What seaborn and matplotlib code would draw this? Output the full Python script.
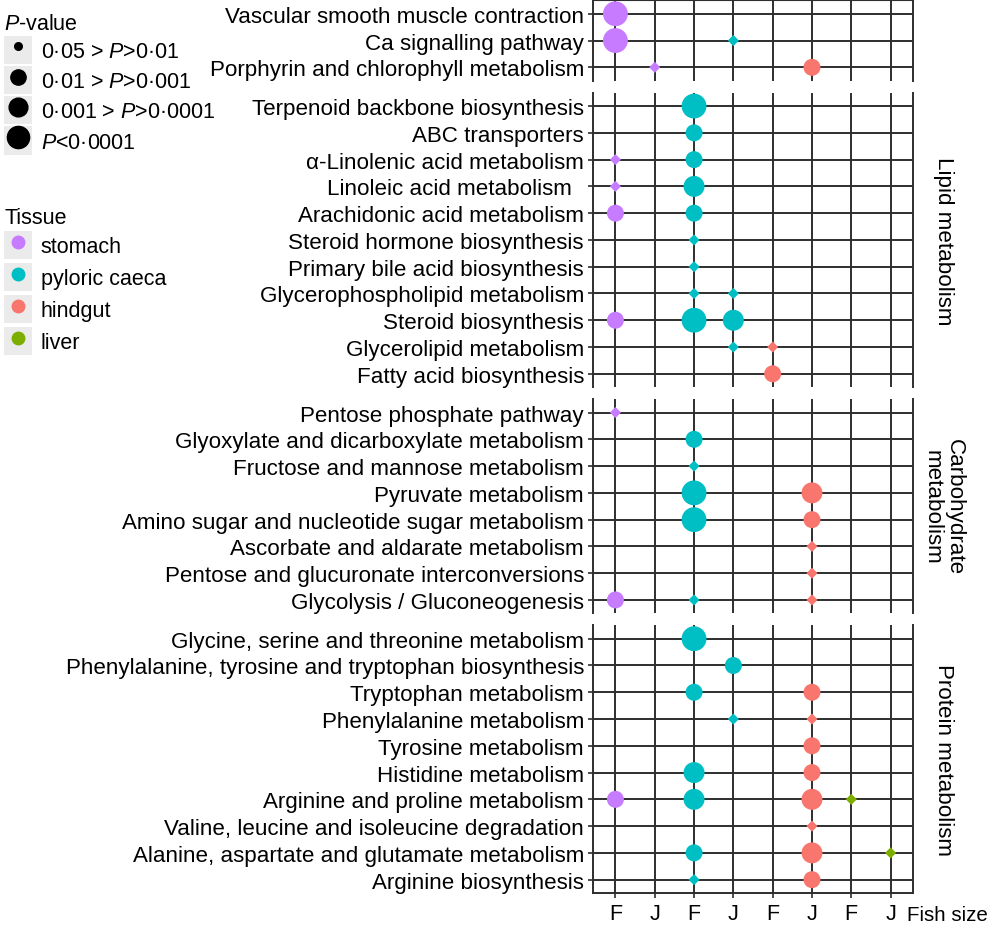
import matplotlib
matplotlib.use("Agg")
import matplotlib.pyplot as plt
from matplotlib.lines import Line2D
from matplotlib.patches import Rectangle
import pandas as pd
import seaborn as sns

# facet rows (top to bottom) and the pathways inside each
PANEL_LABELS = ["", "Lipid metabolism", "Carbohydrate\nmetabolism", "Protein metabolism"]
PANEL_PATHWAYS = [
    ["Vascular smooth muscle contraction", "Ca signalling pathway",
     "Porphyrin and chlorophyll metabolism"],
    ["Terpenoid backbone biosynthesis", "ABC transporters", "α-Linolenic acid metabolism",
     "Linoleic acid metabolism  ", "Arachidonic acid metabolism", "Steroid hormone biosynthesis",
     "Primary bile acid biosynthesis", "Glycerophospholipid metabolism", "Steroid biosynthesis",
     "Glycerolipid metabolism", "Fatty acid biosynthesis"],
    ["Pentose phosphate pathway", "Glyoxylate and dicarboxylate metabolism",
     "Fructose and mannose metabolism", "Pyruvate metabolism",
     "Amino sugar and nucleotide sugar metabolism", "Ascorbate and aldarate metabolism",
     "Pentose and glucuronate interconversions", "Glycolysis / Gluconeogenesis"],
    ["Glycine, serine and threonine metabolism",
     "Phenylalanine, tyrosine and tryptophan biosynthesis", "Tryptophan metabolism",
     "Phenylalanine metabolism", "Tyrosine metabolism", "Histidine metabolism",
     "Arginine and proline metabolism", "Valine, leucine and isoleucine degradation",
     "Alanine, aspartate and glutamate metabolism", "Arginine biosynthesis"],
]

TISSUES = ["stomach", "pyloric caeca", "hindgut", "liver"]
TISSUE_COLORS = ["#C77CFF", "#00BFC4", "#F8766D", "#7CAE00"]
FISH_SIZES = ["F", "J"]
P_LABELS = ["0·05 > $P$>0·01", "0·01 > $P$>0·001", "0·001 > $P$>0·0001", "$P$<0·0001"]

# one entry per significant pathway / tissue / fish size
pathway = [
    "Vascular smooth muscle contraction",
    "Ca signalling pathway", "Ca signalling pathway",
    "Porphyrin and chlorophyll metabolism", "Porphyrin and chlorophyll metabolism",
    "Terpenoid backbone biosynthesis",
    "ABC transporters",
    "α-Linolenic acid metabolism", "α-Linolenic acid metabolism",
    "Linoleic acid metabolism  ", "Linoleic acid metabolism  ",
    "Arachidonic acid metabolism", "Arachidonic acid metabolism",
    "Steroid hormone biosynthesis",
    "Primary bile acid biosynthesis",
    "Glycerophospholipid metabolism", "Glycerophospholipid metabolism",
    "Steroid biosynthesis", "Steroid biosynthesis", "Steroid biosynthesis",
    "Glycerolipid metabolism", "Glycerolipid metabolism",
    "Fatty acid biosynthesis",
    "Pentose phosphate pathway",
    "Glyoxylate and dicarboxylate metabolism",
    "Fructose and mannose metabolism",
    "Pyruvate metabolism", "Pyruvate metabolism",
    "Amino sugar and nucleotide sugar metabolism", "Amino sugar and nucleotide sugar metabolism",
    "Ascorbate and aldarate metabolism",
    "Pentose and glucuronate interconversions",
    "Glycolysis / Gluconeogenesis", "Glycolysis / Gluconeogenesis", "Glycolysis / Gluconeogenesis",
    "Glycine, serine and threonine metabolism",
    "Phenylalanine, tyrosine and tryptophan biosynthesis",
    "Tryptophan metabolism", "Tryptophan metabolism",
    "Phenylalanine metabolism", "Phenylalanine metabolism",
    "Tyrosine metabolism",
    "Histidine metabolism", "Histidine metabolism",
    "Arginine and proline metabolism", "Arginine and proline metabolism",
    "Arginine and proline metabolism", "Arginine and proline metabolism",
    "Valine, leucine and isoleucine degradation",
    "Alanine, aspartate and glutamate metabolism", "Alanine, aspartate and glutamate metabolism",
    "Alanine, aspartate and glutamate metabolism",
    "Arginine biosynthesis", "Arginine biosynthesis",
]
tissue = [
    "stomach",
    "stomach", "pyloric caeca",
    "stomach", "hindgut",
    "pyloric caeca",
    "pyloric caeca",
    "stomach", "pyloric caeca",
    "stomach", "pyloric caeca",
    "stomach", "pyloric caeca",
    "pyloric caeca",
    "pyloric caeca",
    "pyloric caeca", "pyloric caeca",
    "stomach", "pyloric caeca", "pyloric caeca",
    "pyloric caeca", "hindgut",
    "hindgut",
    "stomach",
    "pyloric caeca",
    "pyloric caeca",
    "pyloric caeca", "hindgut",
    "pyloric caeca", "hindgut",
    "hindgut",
    "hindgut",
    "stomach", "pyloric caeca", "hindgut",
    "pyloric caeca",
    "pyloric caeca",
    "pyloric caeca", "hindgut",
    "pyloric caeca", "hindgut",
    "hindgut",
    "pyloric caeca", "hindgut",
    "stomach", "pyloric caeca", "hindgut", "liver",
    "hindgut",
    "pyloric caeca", "hindgut", "liver",
    "pyloric caeca", "hindgut",
]
fish_size = [
    "F",
    "F", "J",
    "J", "J",
    "F",
    "F",
    "F", "F",
    "F", "F",
    "F", "F",
    "F",
    "F",
    "F", "J",
    "F", "F", "J",
    "J", "F",
    "F",
    "F",
    "F",
    "F",
    "F", "J",
    "F", "J",
    "J",
    "J",
    "F", "F", "J",
    "F",
    "J",
    "F", "J",
    "J", "J",
    "J",
    "F", "J",
    "F", "F", "J", "F",
    "J",
    "F", "J", "J",
    "F", "J",
]
# 1: 0.05>P>0.01, 2: 0.01>P>0.001, 3: 0.001>P>0.0001, 4: P<0.0001
p_class = [
    4,
    4, 1,
    1, 2,
    4,
    2,
    1, 2,
    1, 3,
    2, 2,
    1,
    1,
    1, 1,
    2, 4, 3,
    1, 1,
    2,
    1,
    2,
    1,
    4, 3,
    4, 2,
    1,
    1,
    2, 1, 1,
    4,
    2,
    2, 2,
    1, 1,
    2,
    3, 2,
    2, 3, 3, 1,
    1,
    2, 3, 1,
    1, 2,
]

SIZE_AREAS = {1: 32, 2: 150, 3: 228, 4: 320}
SIZE_MARKERS = {1: "D", 2: "o", 3: "o", 4: "o"}
LEGEND_MS = [5.5, 11, 13.5, 16]
LINE_COLOR = "#2e2e2e"
FS = 16.1

sns.set_style("white")
plt.rcParams["font.family"] = ["Liberation Sans", "DejaVu Sans"]
plt.rcParams["text.color"] = "black"
plt.rcParams["mathtext.fontset"] = "custom"
plt.rcParams["mathtext.rm"] = "Liberation Sans"
plt.rcParams["mathtext.it"] = "Liberation Sans:italic"

df = pd.DataFrame({"pathway": pathway, "tissue": tissue, "fish_size": fish_size, "p_class": p_class})
df["x"] = [TISSUES.index(t) * 2 + FISH_SIZES.index(s) + 1 for t, s in zip(df["tissue"], df["fish_size"])]
palette = dict(zip(TISSUES, TISSUE_COLORS))

fig = plt.figure(figsize=(9.95, 9.28), dpi=100)
gs = fig.add_gridspec(len(PANEL_PATHWAYS), 1, height_ratios=[len(p) for p in PANEL_PATHWAYS],
                      left=0.596, right=0.9176, top=0.9985, bottom=0.0366, hspace=0.056)

x_ticks = list(range(1, len(TISSUES) * len(FISH_SIZES) + 1))
for i, (rows, label) in enumerate(zip(PANEL_PATHWAYS, PANEL_LABELS)):
    ax = fig.add_subplot(gs[i])
    sub = df[df["pathway"].isin(rows)].copy()
    sub["y"] = [rows.index(p) for p in sub["pathway"]]
    sns.scatterplot(data=sub, x="x", y="y", hue="tissue", hue_order=TISSUES, palette=palette,
                    size="p_class", sizes=SIZE_AREAS, style="p_class", markers=SIZE_MARKERS,
                    linewidth=0, legend=False, ax=ax, zorder=3)
    ax.set_xlim(0.43, 8.57)
    ax.set_ylim(len(rows) - 0.5, -0.5)
    ax.set_xticks(x_ticks)
    ax.set_yticks(range(len(rows)))
    ax.set_yticklabels(rows, fontsize=FS, color="black")
    ax.set_axisbelow(True)
    ax.grid(True, color=LINE_COLOR, linewidth=1.4)
    ax.set_xlabel("")
    ax.set_ylabel("")
    for side in ["left", "right"]:
        ax.spines[side].set_visible(True)
        ax.spines[side].set_color(LINE_COLOR)
        ax.spines[side].set_linewidth(1.4)
    ax.spines["top"].set_visible(i == 0)
    ax.spines["top"].set_color(LINE_COLOR)
    ax.spines["bottom"].set_visible(i == len(PANEL_PATHWAYS) - 1)
    ax.spines["bottom"].set_color(LINE_COLOR)
    ax.spines["bottom"].set_linewidth(1.4)
    ax.tick_params(axis="y", left=True, length=3.5, width=1.2, color=LINE_COLOR, pad=3)
    if i == len(PANEL_PATHWAYS) - 1:
        ax.set_xticklabels(FISH_SIZES * len(TISSUES), fontsize=15.5, color="black")
        ax.tick_params(axis="x", bottom=True, length=3.5, width=1.2, color=LINE_COLOR, pad=4)
        ax.annotate("Fish size", xy=(1, 0), xycoords="axes fraction", xytext=(-6, -21),
                    textcoords="offset pixels", ha="left", va="center", fontsize=14.8)
    else:
        ax.set_xticklabels([])
        ax.tick_params(axis="x", bottom=False, length=0)
    if label:
        ax.annotate(label, xy=(1, 0.5), xycoords="axes fraction", xytext=(30, 0),
                    textcoords="offset pixels", rotation=-90, ha="center", va="center",
                    multialignment="center", fontsize=FS, linespacing=1.05)

# legends with grey key backgrounds, ggplot style
key_bg = "#EBEBEB"
legend_kw = dict(loc="upper left", alignment="left", frameon=False, fontsize=15.5,
                 title_fontsize=15.5, handlelength=1.3, handleheight=1.63,
                 handletextpad=0.4, borderaxespad=0, borderpad=0.2, labelcolor="black")

p_handles = [(Rectangle((0, 0), 1, 1, facecolor=key_bg, edgecolor="none"),
              Line2D([], [], marker="o", color="black", linestyle="none", markersize=ms))
             for ms in LEGEND_MS]
fig.legend(p_handles, P_LABELS, bbox_to_anchor=(0.0, 0.990), title="$P$-value",
           labelspacing=0.1, **legend_kw)

t_handles = [(Rectangle((0, 0), 1, 1, facecolor=key_bg, edgecolor="none"),
              Line2D([], [], marker="o", color=c, linestyle="none", markersize=9))
             for c in TISSUE_COLORS]
fig.legend(t_handles, TISSUES, bbox_to_anchor=(0.0, 0.781), title="Tissue",
           labelspacing=0.18, **legend_kw)

fig.savefig("out.png", dpi=100)
